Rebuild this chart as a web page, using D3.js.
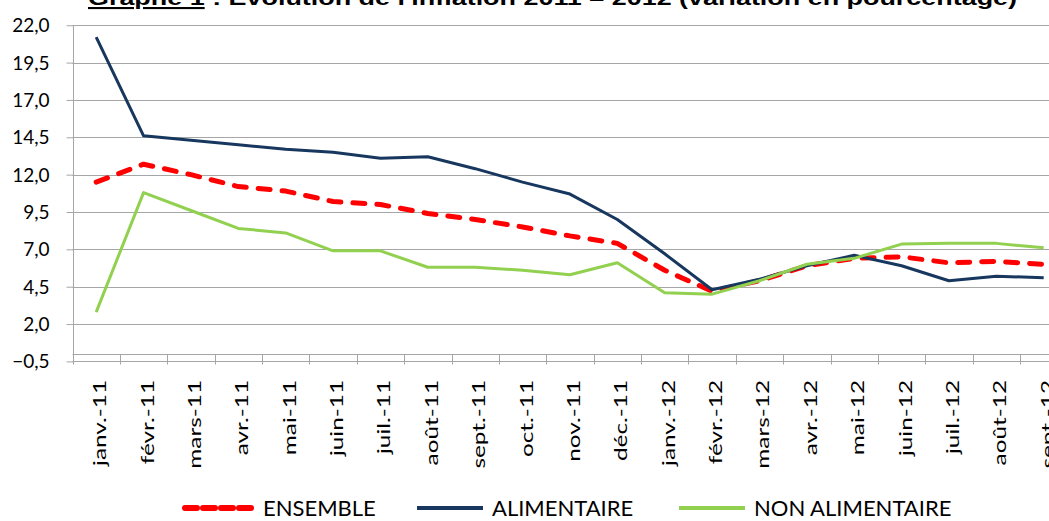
<!DOCTYPE html>
<html>
<head>
<meta charset="utf-8">
<script src="https://cdn.jsdelivr.net/npm/d3@7"></script>
<style>
  html, body { margin: 0; padding: 0; background: #fff; overflow: hidden; }
  svg { display: block; }
</style>
</head>
<body>
<div id="chart"></div>
<script>
//____________________________DATA________________________//
const months = ["janv.-11", "févr.-11", "mars-11", "avr.-11", "mai-11", "juin-11", "juil.-11",
    "août-11", "sept.-11", "oct.-11", "nov.-11", "déc.-11", "janv.-12", "févr.-12", "mars-12",
    "avr.-12", "mai-12", "juin-12", "juil.-12", "août-12", "sept.-12"]

const ensemble = [11.5, 12.7, 12.0, 11.2, 10.9, 10.2, 10.0, 9.4, 9.0, 8.5, 7.9, 7.4, 5.6, 4.2, 4.9, 5.9, 6.4, 6.5, 6.1, 6.2, 6.0]
const alimentaire = [21.2, 14.6, 14.3, 14.0, 13.7, 13.5, 13.1, 13.2, 12.4, 11.5, 10.7, 9.0, 6.7, 4.3, 5.0, 5.9, 6.6, 5.9, 4.9, 5.2, 5.1]
const nonAlimentaire = [2.8, 10.8, 9.6, 8.4, 8.1, 6.9, 6.9, 5.8, 5.8, 5.6, 5.3, 6.1, 4.1, 4.0, 4.9, 6.0, 6.4, 7.35, 7.4, 7.4, 7.1]

const yTicks = [-0.5, 2.0, 4.5, 7.0, 9.5, 12.0, 14.5, 17.0, 19.5, 22.0]

const seriesNames = ["ENSEMBLE", "ALIMENTAIRE", "NON ALIMENTAIRE"]

const titleLead = "Graphe 1"
const titleRest = " : Evolution de l'inflation 2011 – 2012 (variation en pourcentage)"

//____________________________SETUP________________________//
const WIDTH = 1049
const HEIGHT = 521
const FONT = "Lato, 'Open Sans', sans-serif"

const svg = d3.select('#chart').append('svg')
    .attr('width', WIDTH)
    .attr('height', HEIGHT)

// the category axis runs past the right edge, like the cropped original
const x = d3.scaleBand()
    .domain(months)
    .range([72.5, 72.5 + months.length * 47.375])

const y = d3.scaleLinear()
    .domain([-0.5, 22])
    .range([361.4, 25.25])

const series = [
    {name: seriesNames[0], values: ensemble, color: '#FF0000', width: 5, dash: '12,12'},
    {name: seriesNames[1], values: alimentaire, color: '#17375E', width: 3, dash: null},
    {name: seriesNames[2], values: nonAlimentaire, color: '#92D050', width: 3, dash: null}
]

//____________________________GRID + AXES________________________//
const gridG = svg.append('g').attr('class', 'grid')
gridG.selectAll('line')
    .data(yTicks)
    .join('line')
    .attr('x1', x.range()[0])
    .attr('x2', WIDTH)
    .attr('y1', d => Math.round(y(d)) + 0.5)
    .attr('y2', d => Math.round(y(d)) + 0.5)
    .attr('stroke', '#a6a6a6')
    .attr('stroke-width', 1)

// y axis
const yAxis = d3.axisLeft(y)
    .tickValues(yTicks)
    .tickSize(7)
    .tickPadding(0)
    .tickFormat(d => d3.format('.1f')(d).replace('.', ','))

const yAxisG = svg.append('g')
    .attr('transform', `translate(${Math.round(x.range()[0]) + 0.5},0)`)
    .call(yAxis)
yAxisG.select('.domain').remove()
yAxisG.append('line')
    .attr('y1', y(22)).attr('y2', y(-0.5))
    .attr('stroke', '#a6a6a6')
yAxisG.selectAll('.tick line').attr('stroke', '#a6a6a6')
yAxisG.selectAll('.tick text')
    .attr('x', -24)
    .attr('dy', '0.34em')
    .attr('fill', '#000')
    .style('font-family', FONT)
    .style('font-size', '19px')

// x axis crossing at zero, ticks between categories
const zeroY = Math.round(y(0)) + 0.5
const xAxisG = svg.append('g').attr('class', 'x-axis')
xAxisG.append('line')
    .attr('x1', x.range()[0]).attr('x2', WIDTH)
    .attr('y1', zeroY).attr('y2', zeroY)
    .attr('stroke', '#a6a6a6')

const boundaries = months.map(m => x(m)).concat([x.range()[1]])
xAxisG.selectAll('line.tick')
    .data(boundaries)
    .join('line')
    .attr('class', 'tick')
    .attr('x1', d => Math.round(d) + 0.5)
    .attr('x2', d => Math.round(d) + 0.5)
    .attr('y1', zeroY)
    .attr('y2', zeroY + 10)
    .attr('stroke', '#a6a6a6')

const catLabels = xAxisG.selectAll('text')
    .data(months)
    .join('text')
    .attr('text-anchor', 'end')
    .attr('fill', '#000')
    .style('font-family', FONT)
    .style('font-size', '18px')
    .text(d => d)

// stretch the labels along their length to match the original proportions
const refLen = catLabels.filter(d => d === months[0]).node().getComputedTextLength()
const stretch = 86 / refLen
catLabels.attr('transform', d => `translate(${x(d) + x.bandwidth() / 2 + 10},380) rotate(-90) scale(${stretch},1)`)

//____________________________LINES________________________//
const line = d3.line()
    .x((d, i) => x(months[i]) + x.bandwidth() / 2)
    .y(d => y(d))

svg.append('g').attr('class', 'lines')
    .selectAll('path')
    .data(series)
    .join('path')
    .attr('d', d => line(d.values))
    .attr('fill', 'none')
    .attr('stroke', d => d.color)
    .attr('stroke-width', d => d.width)
    .attr('stroke-dasharray', d => d.dash)
    .attr('stroke-linecap', d => d.dash ? 'round' : 'butt')
    .attr('stroke-linejoin', 'round')

//____________________________LEGEND________________________//
const legendPos = [183, 415, 677]
const legendG = svg.append('g').attr('class', 'legend')
const items = legendG.selectAll('g')
    .data(series)
    .join('g')
    .attr('transform', (d, i) => `translate(${legendPos[i]},508)`)

items.append('line')
    .attr('x1', 2).attr('x2', d => d.dash ? 70 : 68)
    .attr('stroke', d => d.color)
    .attr('stroke-width', d => d.dash ? 6 : 4)
    .attr('stroke-dasharray', d => d.dash ? '12,6' : null)
    .attr('stroke-linecap', d => d.dash ? 'round' : 'butt')

items.append('text')
    .attr('x', d => d.dash ? 80 : 77)
    .attr('y', 8)
    .attr('fill', '#000')
    .style('font-family', FONT)
    .style('font-size', '22px')
    .text(d => d.name)

//____________________________TITLE________________________//
const title = svg.append('text')
    .attr('x', 88)
    .attr('y', 5)
    .attr('textLength', 929)
    .attr('lengthAdjust', 'spacingAndGlyphs')
    .style('font-family', "'Liberation Sans', Arial, sans-serif")
    .style('font-weight', 'bold')
    .style('font-size', '21px')
    .attr('fill', '#000')

title.append('tspan')
    .style('text-decoration', 'underline')
    .text(titleLead)
title.append('tspan').text(titleRest)
</script>
</body>
</html>
